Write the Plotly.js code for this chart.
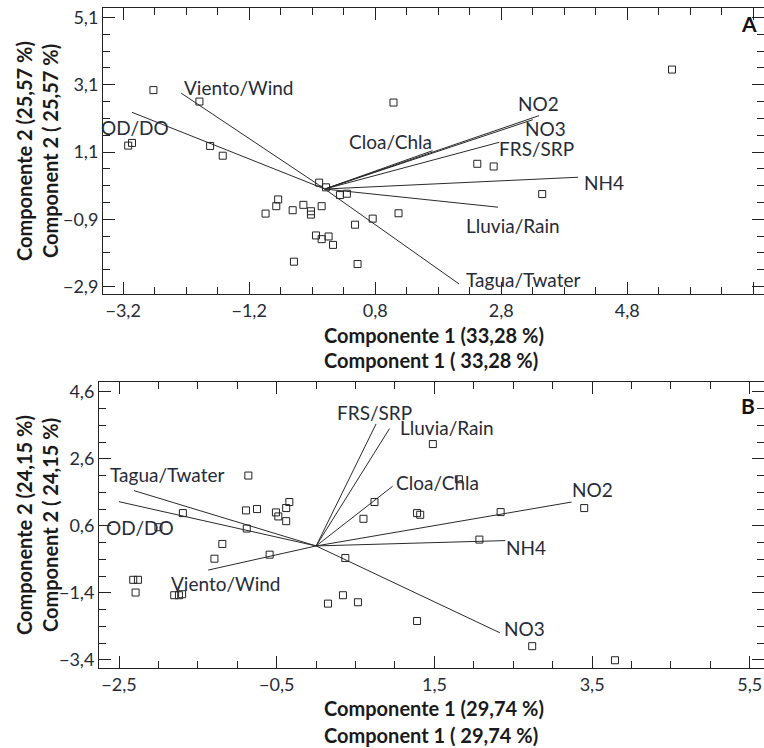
<!DOCTYPE html>
<html>
<head>
<meta charset="utf-8">
<script src="https://cdn.plot.ly/plotly-3.0.1.min.js"></script>
<style>
  html, body { margin: 0; padding: 0; background: #fff; }
  #chart { width: 764px; height: 748px; }
</style>
</head>
<body>
<div id="chart"></div>
<script>
// Panel A: sample scores on the first two principal components
const scoresAx = [-2.72, -1.99, -3.12, -3.06, -1.82, -1.62, -0.09, 0.02, 0.24, 0.35,
                  -0.74, -0.77, -0.94, -0.51, -0.34, -0.22, -0.22, -0.05, -0.14, -0.05,
                  0.06, 0.13, -0.49, 0.52, 0.48, 0.76, 1.17, 1.09, 2.42, 2.68, 3.45, 5.51];
const scoresAy = [2.94, 2.60, 1.29, 1.37, 1.28, 0.99, 0.19, 0.05, -0.18, -0.14,
                  -0.31, -0.51, -0.73, -0.63, -0.47, -0.66, -0.76, -0.51, -1.38, -1.49,
                  -1.41, -1.66, -2.16, -2.23, -1.06, -0.88, -0.72, 2.57, 0.75, 0.67, -0.15, 3.55];

// Panel A: variable loadings (vector tips)
const variablesA = ["Viento/Wind", "OD/DO", "Cloa/Chla", "NO2", "NO3", "FRS/SRP", "NH4", "Lluvia/Rain", "Tagua/Twater"];
const loadAx = [-2.28, -3.06, 1.71, 3.40, 3.30, 2.77, 4.02, 2.75, 2.13];
const loadAy = [2.85, 2.28, 1.14, 2.18, 2.06, 1.39, 0.35, -0.54, -2.82];

// Panel B: sample scores
const scoresBx = [-0.86, -1.69, -0.89, -0.75, -0.51, -0.48, -0.38, -0.34, -0.38, -0.88,
                  -2.00, -1.19, -1.29, -0.59, -2.32, -2.26, -2.29, -1.80, -1.74, -1.70,
                  0.15, 0.34, 0.53, 0.37, 0.74, 0.60, 1.48, 1.81, 1.28, 1.32,
                  2.34, 2.07, 1.28, 3.40, 2.74, 3.79];
const scoresBy = [2.10, 0.98, 1.06, 1.10, 1.00, 0.88, 1.13, 1.31, 0.74, 0.52,
                  0.56, 0.06, -0.38, -0.26, -1.01, -1.01, -1.39, -1.47, -1.47, -1.44,
                  -1.72, -1.47, -1.68, -0.36, 1.31, 0.81, 3.04, 1.99, 0.98, 0.93,
                  1.01, 0.19, -2.24, 1.13, -2.99, -3.41];

// Panel B: variable loadings
const variablesB = ["Tagua/Twater", "OD/DO", "Viento/Wind", "FRS/SRP", "Lluvia/Rain", "Cloa/Chla", "NO2", "NH4", "NO3"];
const loadBx = [-2.31, -2.50, -1.37, 0.76, 0.93, 0.97, 3.24, 2.40, 2.33];
const loadBy = [1.65, 1.32, -0.72, 3.64, 3.50, 1.78, 1.31, 0.16, -2.59];

// Axis tick labels
const tickA_x = [-3.2, -1.2, 0.8, 2.8, 4.8, 6.8];
const tickA_y = [-2.9, -0.9, 1.1, 3.1, 5.1];
const tickB_x = [-2.5, -0.5, 1.5, 3.5, 5.5];
const tickB_y = [-3.4, -1.4, 0.6, 2.6, 4.6];

// Where each variable name sits (data units of its panel)
const labelPosA = {
  "Viento/Wind": [-1.375, 3.01], "OD/DO": [-3.02, 1.82], "Cloa/Chla": [1.05, 1.41],
  "NO2": [3.39, 2.53], "NO3": [3.50, 1.80], "FRS/SRP": [3.36, 1.21],
  "NH4": [4.43, 0.19], "Lluvia/Rain": [2.98, -1.09], "Tagua/Twater": [3.14, -2.69]
};
const labelPosB = {
  "Tagua/Twater": [-1.89, 2.13], "OD/DO": [-2.23, 0.54], "Viento/Wind": [-1.15, -1.11],
  "FRS/SRP": [0.74, 3.98], "Lluvia/Rain": [1.66, 3.53], "Cloa/Chla": [1.54, 1.89],
  "NO2": [3.50, 1.68], "NH4": [2.66, -0.06], "NO3": [2.64, -2.45]
};

const FONT = "Lato, 'Open Sans', sans-serif";
const INK = "#222";
const TEXT = "#262b38";

function vectorTrace(xs, ys, xa, ya) {
  const x = [], y = [];
  xs.forEach((v, i) => { x.push(0, v, null); y.push(0, ys[i], null); });
  return { type: "scatter", mode: "lines", x, y, xaxis: xa, yaxis: ya,
           line: { color: "#2a2a2a", width: 1 }, hoverinfo: "skip", showlegend: false };
}
function scoreTrace(x, y, xa, ya) {
  return { type: "scatter", mode: "markers", x, y, xaxis: xa, yaxis: ya, showlegend: false,
           marker: { symbol: "square-open", size: 7, color: INK, line: { width: 1, color: INK } } };
}
// empty carrier so the right-hand tick axes get drawn
function carrier(xa, ya) {
  return { type: "scatter", mode: "markers", x: [], y: [], xaxis: xa, yaxis: ya, showlegend: false };
}

const data = [
  vectorTrace(loadAx, loadAy, "x", "y"),
  scoreTrace(scoresAx, scoresAy, "x", "y"),
  vectorTrace(loadBx, loadBy, "x2", "y2"),
  scoreTrace(scoresBx, scoresBy, "x2", "y2"),
  carrier("x", "y3"),
  carrier("x2", "y4")
];

const tickStyle = {
  ticks: "inside", ticklen: 12, tickwidth: 1, tickcolor: INK,
  showgrid: false, zeroline: false
};
function minorFor(ticks) {
  return { ticks: "inside", ticklen: 7, tickwidth: 1, tickcolor: INK, dtick: 0.5, tick0: ticks[0], showgrid: false };
}
function xAxis(domain, range, ticks, anchor) {
  return Object.assign({
    domain, range, anchor,
    tickmode: "array", tickvals: ticks, tickformat: ".1f",
    minor: minorFor(ticks),
    showline: true, linecolor: INK, linewidth: 1, mirror: "ticks",
    tickfont: { family: FONT, size: 18, color: TEXT }
  }, tickStyle);
}
function yAxis(domain, range, ticks, anchor) {
  return Object.assign({
    domain, range, anchor,
    tickmode: "array", tickvals: ticks, tickformat: ".1f",
    minor: minorFor(ticks),
    showline: true, linecolor: INK, linewidth: 1, mirror: false,
    tickfont: { family: FONT, size: 18, color: TEXT }
  }, tickStyle);
}
// right-hand ticks without a frame line (the frame sits at the page edge)
function yRight(over, range, ticks, anchor) {
  return Object.assign({
    overlaying: over, side: "right", range, anchor,
    tickmode: "array", tickvals: ticks, showticklabels: false,
    minor: minorFor(ticks), showline: false
  }, tickStyle);
}

const W = 764, H = 748;
const px = v => v / W, py = v => 1 - v / H;

const annotations = [];
const varFont = { family: FONT, size: 19, color: TEXT };
variablesA.forEach(n => annotations.push({
  x: labelPosA[n][0], y: labelPosA[n][1], xref: "x", yref: "y", text: n, showarrow: false,
  xanchor: "center", yanchor: "middle", font: varFont
}));
variablesB.forEach(n => annotations.push({
  x: labelPosB[n][0], y: labelPosB[n][1], xref: "x2", yref: "y2", text: n, showarrow: false,
  xanchor: "center", yanchor: "middle", font: varFont
}));

const titleFont = { family: FONT, size: 20, color: "#1a1a1a" };
function note(text, x, y, angle, font) {
  return { text, x: px(x), y: py(y), xref: "paper", yref: "paper", showarrow: false,
           xanchor: "center", yanchor: "middle", textangle: angle, font };
}
annotations.push(
  note("<b>A</b>", 749, 23, 0, { family: FONT, size: 21, color: "#111" }),
  note("<b>B</b>", 748, 406, 0, { family: FONT, size: 21, color: "#111" }),
  note("<b>Componente 1 (33,28 %)</b>", 434, 335, 0, titleFont),
  note("<b>Component 1 ( 33,28 %)</b>", 431, 360, 0, titleFont),
  note("<b>Componente 2 (25,57 %)</b>", 24, 151, -90, titleFont),
  note("<b>Component 2 ( 25,57 %)</b>", 50, 151, -90, titleFont),
  note("<b>Componente 1 (29,74 %)</b>", 434, 708, 0, titleFont),
  note("<b>Component 1 ( 29,74 %)</b>", 431, 735, 0, titleFont),
  note("<b>Componente 2 (24,15 %)</b>", 24, 525, -90, titleFont),
  note("<b>Component 2 ( 24,15 %)</b>", 50, 525, -90, titleFont)
);

const rangeAy = [-3.12, 5.38], rangeBy = [-3.65, 4.9];
const layout = {
  width: W, height: H,
  margin: { l: 0, r: 0, t: 0, b: 0 },
  paper_bgcolor: "#fff", plot_bgcolor: "#fff",
  separators: ",.",
  showlegend: false,
  xaxis: xAxis([px(103), 1], [-3.52, 6.97], tickA_x, "y"),
  yaxis: yAxis([py(294), py(8)], rangeAy, tickA_y, "x"),
  yaxis3: yRight("y", rangeAy, tickA_y, "x"),
  xaxis2: xAxis([px(99), 1], [-2.754, 5.68], tickB_x, "y2"),
  yaxis2: yAxis([py(668.3), py(381.7)], rangeBy, tickB_y, "x2"),
  yaxis4: yRight("y2", rangeBy, tickB_y, "x2"),
  annotations
};

Plotly.newPlot("chart", data, layout, { displayModeBar: false, staticPlot: true });
</script>
</body>
</html>
